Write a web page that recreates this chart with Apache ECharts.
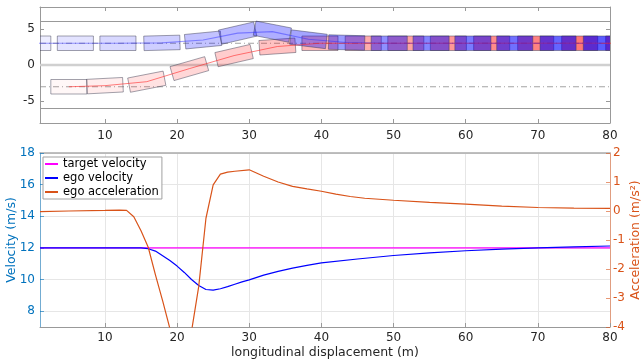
<!DOCTYPE html>
<html>
<head>
<meta charset="utf-8">
<script src="https://cdn.jsdelivr.net/npm/echarts@6/dist/echarts.min.js"></script>
<style>
  html, body { margin: 0; padding: 0; background: #fff; }
  #chart { width: 643px; height: 362px; }
</style>
</head>
<body>
<div id="chart"></div>
<script>
// top panel: vehicle footprints, centre x / y (m) and heading (deg)
const egoBoxX = [0, 5.9, 11.8, 17.9, 23.6, 28.4, 33.2, 38.2, 43.5, 49.4, 55.2, 61.0, 66.8, 72.8, 78.8];
const egoBoxY = [3, 3, 3, 3.05, 3.45, 4.4, 4.6, 3.55, 3.1, 3, 3, 3, 3, 3, 3];
const egoHeading = [0, 0, 0, 1.5, 5.5, 13, -11, -7, -1.5, 0, 0, 0, 0, 0, 0];

const targetBoxX = [5.0, 10.0, 15.8, 21.7, 27.9, 33.9, 39.8, 45.8, 51.7, 57.6, 63.6, 69.7, 75.8, 81.9];
const targetBoxY = [-3, -2.85, -2.3, -0.5, 1.3, 2.55, 3.0, 3, 3, 3, 3, 3, 3, 3];
const targetHeading = [0, 3, 11, 16, 13, 4, 0, 0, 0, 0, 0, 0, 0, 0];

const laneEdges = [-6, 6];
const laneDividers = [-3, 3];
const roadCentre = [0];

// bottom panel
const targetVelX = [1, 80];
const targetVel = [12, 12];

const egoVelX = [1, 5, 10, 13, 14, 15, 16, 17, 18, 19, 20, 21, 22, 23, 24, 25, 26, 27, 28, 29, 30, 32, 34, 36, 38, 40, 45, 50, 55, 60, 65, 70, 75, 80];
const egoVel = [12, 12, 12, 12, 12, 12, 11.95, 11.8, 11.5, 11.2, 10.85, 10.45, 10.0, 9.62, 9.37, 9.33, 9.42, 9.55, 9.7, 9.85, 9.98, 10.28, 10.52, 10.72, 10.9, 11.05, 11.3, 11.52, 11.68, 11.82, 11.92, 12.0, 12.07, 12.12];

const accelX = [1, 5, 10, 12, 13, 14, 15, 16, 17, 18, 19, 20, 21, 22, 23, 24, 25, 26, 27, 28, 30, 32, 34, 36, 38, 40, 42, 44, 46, 50, 55, 60, 65, 70, 75, 80];
const egoAccel = [-0.02, 0.0, 0.02, 0.03, 0.02, -0.2, -0.68, -1.25, -2.2, -3.1, -4.05, -4.7, -4.9, -4.15, -2.6, -0.25, 0.9, 1.27, 1.34, 1.37, 1.42, 1.2, 1.0, 0.85, 0.76, 0.68, 0.58, 0.5, 0.44, 0.37, 0.3, 0.24, 0.17, 0.12, 0.1, 0.09];

const CAR_LENGTH = 5;
const CAR_WIDTH = 2;
const X_MIN = 1;
const X_MAX = 80;

const FONT = 'DejaVu Sans';
const TEXT = '#262626';
const BLUE_AXIS = '#0072BD';
const ORANGE = '#D95319';

function boxRenderer(rgb, a0, da) {
  return function (params, api) {
    const cx = api.value(0);
    const cy = api.value(1);
    const th = api.value(2) * Math.PI / 180;
    const c = Math.cos(th);
    const s = Math.sin(th);
    const hl = CAR_LENGTH / 2;
    const hw = CAR_WIDTH / 2;
    const points = [[-hl, -hw], [hl, -hw], [hl, hw], [-hl, hw]].map(([u, v]) =>
      api.coord([cx + u * c - v * s, cy + u * s + v * c]));
    const alpha = Math.min(1, a0 + da * params.dataIndex);
    return {
      type: 'polygon',
      shape: { points },
      style: { fill: `rgba(${rgb},${alpha})`, stroke: 'rgba(60,60,80,0.6)', lineWidth: 0.8 }
    };
  };
}

const zip = (xs, ys) => xs.map((x, i) => [x, ys[i]]);
const hLine = (y, style, z) => ({
  type: 'line', xAxisIndex: 0, yAxisIndex: 0, silent: true, showSymbol: false,
  data: [[X_MIN, y], [X_MAX, y]], lineStyle: style, z
});

const chart = echarts.init(document.getElementById('chart'));

chart.setOption({
  animation: false,
  textStyle: { fontFamily: FONT },
  grid: [
    { left: 40, right: 33, top: 7, height: 116, outerBoundsMode: 'none' },
    { left: 40, right: 33, top: 153, height: 174, outerBoundsMode: 'none' }
  ],
  legend: {
    data: ['target velocity', 'ego velocity', 'ego acceleration'],
    orient: 'vertical',
    left: 43,
    top: 157,
    icon: 'rect',
    itemWidth: 13,
    itemHeight: 2,
    itemGap: 0,
    padding: [0, 3, 0, 2],
    backgroundColor: '#fff',
    borderColor: '#a0a0a0',
    borderWidth: 1,
    textStyle: { fontFamily: FONT, fontSize: 11.5, color: '#000', lineHeight: 14 }
  },
  xAxis: [
    {
      gridIndex: 0, type: 'value', min: X_MIN, max: X_MAX, splitNumber: 8,
      axisLine: { onZero: false, lineStyle: { color: '#999' } },
      axisTick: { inside: true, length: 4, lineStyle: { color: '#999' } },
      axisLabel: { showMinLabel: false, color: TEXT, fontSize: 12, margin: 7 },
      splitLine: { show: false }
    },
    {
      gridIndex: 0, type: 'value', position: 'top', min: X_MIN, max: X_MAX, splitNumber: 8,
      axisLine: { onZero: false, lineStyle: { color: '#999' } },
      axisTick: { inside: true, length: 4, lineStyle: { color: '#999' } },
      axisLabel: { show: false },
      splitLine: { show: false }
    },
    {
      gridIndex: 1, type: 'value', min: X_MIN, max: X_MAX, splitNumber: 8,
      name: 'longitudinal displacement (m)', nameLocation: 'middle', nameGap: 19,
      nameMoveOverlap: false,
      nameTextStyle: { color: TEXT, fontSize: 12.5, fontFamily: FONT },
      axisLine: { onZero: false, lineStyle: { color: '#999' } },
      axisTick: { inside: true, length: 4, lineStyle: { color: '#999' } },
      axisLabel: { showMinLabel: false, color: TEXT, fontSize: 12, margin: 5 },
      splitLine: { show: true, lineStyle: { color: '#e6e6e6' } }
    },
    {
      gridIndex: 1, type: 'value', position: 'top', min: X_MIN, max: X_MAX, splitNumber: 8,
      axisLine: { onZero: false, lineStyle: { color: '#aaa', width: 1.5 } },
      axisTick: { show: false },
      axisLabel: { show: false },
      splitLine: { show: false }
    }
  ],
  yAxis: [
    {
      gridIndex: 0, type: 'value', min: -8, max: 8, splitNumber: 3,
      axisLine: { show: true, onZero: false, lineStyle: { color: '#999' } },
      axisTick: { show: true, inside: true, length: 4, lineStyle: { color: '#999' } },
      axisLabel: { showMinLabel: false, showMaxLabel: false, color: TEXT, fontSize: 12, margin: 5 },
      splitLine: { show: false }
    },
    {
      gridIndex: 0, type: 'value', position: 'right', min: -8, max: 8, splitNumber: 3,
      axisLine: { show: true, onZero: false, lineStyle: { color: '#999' } },
      axisTick: { show: true, inside: true, length: 4, lineStyle: { color: '#999' } },
      axisLabel: { show: false },
      splitLine: { show: false }
    },
    {
      gridIndex: 1, type: 'value', min: 7, max: 18, splitNumber: 5,
      name: 'Velocity (m/s)', nameLocation: 'middle', nameGap: 22, nameRotate: 90,
      nameMoveOverlap: false,
      nameTextStyle: { color: BLUE_AXIS, fontSize: 12.5, fontFamily: FONT },
      axisLine: { show: true, onZero: false, lineStyle: { color: 'rgba(0,114,189,0.5)' } },
      axisTick: { show: true, inside: true, length: 4, lineStyle: { color: 'rgba(0,114,189,0.6)' } },
      axisLabel: { showMinLabel: false, color: BLUE_AXIS, fontSize: 12, margin: 5 },
      splitLine: { show: true, lineStyle: { color: '#e6e6e6' } }
    },
    {
      gridIndex: 1, type: 'value', position: 'right', min: -4, max: 2, interval: 1,
      name: 'Acceleration (m/s²)', nameLocation: 'middle', nameGap: 19, nameRotate: 90,
      nameMoveOverlap: false,
      nameTextStyle: { color: ORANGE, fontSize: 12.5, fontFamily: FONT },
      axisLine: { show: true, onZero: false, lineStyle: { color: 'rgba(217,83,25,0.5)' } },
      axisTick: { show: true, inside: true, length: 4, lineStyle: { color: 'rgba(217,83,25,0.6)' } },
      axisLabel: { color: ORANGE, fontSize: 12, margin: 3 },
      splitLine: { show: false }
    }
  ],
  series: [
    ...laneEdges.map(y => hLine(y, { color: '#999', width: 1 }, 1)),
    ...roadCentre.map(y => hLine(y, { color: '#d0d0d0', width: 2.5 }, 1)),
    ...laneDividers.map(y => hLine(y, { color: '#8c8c8c', width: 0.8, type: [6, 3, 1, 3] }, 1)),
    {
      type: 'custom', name: 'target', xAxisIndex: 0, yAxisIndex: 0, clip: true, z: 2,
      renderItem: boxRenderer('255,0,0', 0.03, 0.042),
      encode: { x: 0, y: 1 },
      data: targetBoxX.map((x, i) => [x, targetBoxY[i], targetHeading[i]])
    },
    {
      type: 'custom', name: 'ego', xAxisIndex: 0, yAxisIndex: 0, clip: true, z: 3,
      renderItem: boxRenderer('0,0,255', 0.07, 0.041),
      encode: { x: 0, y: 1 },
      data: egoBoxX.map((x, i) => [x, egoBoxY[i], egoHeading[i]])
    },
    {
      type: 'line', xAxisIndex: 0, yAxisIndex: 0, showSymbol: false, silent: true, z: 4,
      data: zip(targetBoxX, targetBoxY),
      lineStyle: { color: 'rgba(255,40,40,0.6)', width: 1 }
    },
    {
      type: 'line', xAxisIndex: 0, yAxisIndex: 0, showSymbol: false, silent: true, z: 4,
      data: zip(egoBoxX, egoBoxY),
      lineStyle: { color: 'rgba(40,40,255,0.45)', width: 1.2 }
    },
    {
      type: 'line', name: 'target velocity', xAxisIndex: 2, yAxisIndex: 2, showSymbol: false, z: 5,
      data: zip(targetVelX, targetVel),
      itemStyle: { color: '#ff00ff' },
      lineStyle: { color: '#ff00ff', width: 1.2 }
    },
    {
      type: 'line', name: 'ego velocity', xAxisIndex: 2, yAxisIndex: 2, showSymbol: false, z: 5,
      data: zip(egoVelX, egoVel),
      itemStyle: { color: '#0000ff' },
      lineStyle: { color: '#0000ff', width: 1.2 }
    },
    {
      type: 'line', name: 'ego acceleration', xAxisIndex: 2, yAxisIndex: 3, showSymbol: false, z: 5,
      data: zip(accelX, egoAccel),
      itemStyle: { color: ORANGE },
      lineStyle: { color: ORANGE, width: 1.2 }
    }
  ]
});
</script>
</body>
</html>
